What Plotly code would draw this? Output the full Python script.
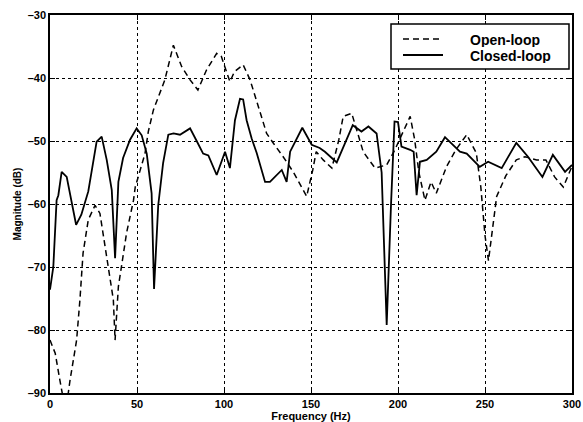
import plotly.graph_objects as go

# ---- data ----
freq_open = [0, 3, 5.7, 9, 11.5, 15.3, 17.2, 19, 22, 25.9, 28.7, 32.6, 36.4, 37.4, 39.3, 41.2,
             44, 48, 49, 54.6, 56.5, 59.4, 63, 66, 70.9, 75.7, 80.5, 85, 90, 95.8, 98.5, 103.4,
             106, 111, 115, 119.7, 124.5, 128.5, 134, 140, 147.5, 151, 153, 157, 162, 166, 168.5,
             173.4, 177, 180, 186.8, 193.5, 198, 203, 207, 209.6, 212, 215.5, 219, 222, 228, 233,
             239.5, 245, 247.6, 250, 252, 256.7, 262, 268, 273, 279.7, 285, 290, 295, 300]
mag_open = [-81.6, -83.7, -88, -93, -88, -81.6, -75.2, -67.8, -62.5, -60.2, -61.5, -68.4, -75.2,
            -81.6, -73.1, -69.7, -64.6, -59.4, -57.3, -52, -48.5, -45.1, -42.4, -40.3, -34.8,
            -38.2, -40.3, -41.9, -38.7, -36.1, -36.6, -40.6, -39, -37.9, -40.3, -44.6, -48.8,
            -50.4, -52.5, -55, -58.8, -54.6, -51.7, -53, -54.3, -49.8, -46.1, -45.6, -48.8,
            -51.7, -54.3, -53.8, -51.5, -48.5, -46.1, -49.8, -55, -59.4, -56.5, -58.3, -54,
            -51.5, -49, -51.9, -57.3, -65, -69, -58.8, -55.5, -53, -52.5, -53, -53, -55.7,
            -57.3, -54]

freq_closed = [0, 1.9, 3.8, 4.8, 6.7, 9.6, 15, 18, 22, 24.9, 26.8, 29.7, 32.6, 35.5, 37.4, 39.3,
               42, 46, 49.8, 52.7, 55.6, 58.4, 59.8, 62.2, 65, 68, 71, 74.7, 80.5, 84.3, 88, 91,
               95.8, 100.6, 103.4, 106.3, 109.2, 111, 113, 115.9, 118.8, 123.6, 126.4, 133.2,
               136, 138, 143.7, 145, 150.4, 155, 158, 164.8, 174, 179, 183, 187.7, 190.6, 193.5,
               196, 198, 200, 202, 207, 209, 210.7, 212.6, 216.5, 222, 227, 235.6, 239.5, 247,
               251.8, 259.6, 268, 274.7, 283, 289, 296, 300]
mag_closed = [-73.6, -70, -59.4, -58.6, -54.9, -55.7, -63.3, -61.7, -58, -53, -50.1, -49.3, -53,
              -57.8, -68.6, -56.5, -52.7, -49.8, -48, -49.1, -52, -58.3, -73.5, -60.2, -53.5,
              -49, -48.8, -49, -48, -50, -52, -52.3, -55.4, -51.7, -54.3, -46.7, -43.3, -43.4,
              -46.7, -49.6, -51.9, -56.5, -56.5, -54.6, -56.5, -51.7, -48.8, -47.9, -50.6,
              -51.1, -51.7, -53.4, -47.5, -48.5, -47.7, -48.8, -55, -79.2, -60, -46.9, -47,
              -50.9, -51.4, -51.7, -58.6, -53.3, -53, -51.7, -49.4, -51.7, -52, -54.1, -53.3,
              -54.3, -50.3, -52.5, -55.7, -52.2, -54.9, -53.8]

x_ticks = [0, 50, 100, 150, 200, 250, 300]
y_ticks = [-90, -80, -70, -60, -50, -40, -30]
series_names = ["Open-loop", "Closed-loop"]

# ---- layout geometry (pixels) ----
W, H = 583, 422
L, R, T, B = 50, 572, 15, 393
FONT = "Liberation Sans, Arial, sans-serif"


def px(xp):
    return (xp - L) / (R - L)


def py(yp):
    return 1 - (yp - T) / (B - T)


fig = go.Figure()
fig.add_trace(go.Scatter(x=freq_open, y=mag_open, mode="lines", name=series_names[0],
                         line=dict(color="black", width=1.5, dash="6px,4px"), showlegend=False))
fig.add_trace(go.Scatter(x=freq_closed, y=mag_closed, mode="lines", name=series_names[1],
                         line=dict(color="black", width=1.8), showlegend=False))

axis_common = dict(
    showline=True, linecolor="black", linewidth=1.5, mirror="ticks",
    ticks="inside", ticklen=5, tickwidth=1, tickcolor="black",
    showgrid=True, gridcolor="black", gridwidth=1, griddash="dot",
    zeroline=False,
    tickfont=dict(family=FONT, size=11, color="black", weight="bold"),
)

fig.update_xaxes(range=[0, 300], tickvals=x_ticks, ticktext=[str(v) for v in x_ticks],
                 title=dict(text="Frequency (Hz)", standoff=2,
                            font=dict(family=FONT, size=11, color="black", weight="bold")),
                 **axis_common)
fig.update_yaxes(range=[-90, -30], tickvals=y_ticks,
                 ticktext=[("\u2013" if v < 0 else "") + str(abs(v)) for v in y_ticks],
                 title=dict(text="Magnitude (dB)", standoff=4,
                            font=dict(family=FONT, size=10, color="black", weight="bold")),
                 **axis_common)

# custom MATLAB-style legend box
shapes = [
    dict(type="rect", xref="paper", yref="paper", x0=px(391), x1=px(569), y0=py(69), y1=py(24),
         line=dict(color="black", width=1.5), fillcolor="white", layer="above"),
    dict(type="line", xref="paper", yref="paper", x0=px(403), x1=px(443), y0=py(39), y1=py(39),
         line=dict(color="black", width=1.5, dash="6px,4px"), layer="above"),
    dict(type="line", xref="paper", yref="paper", x0=px(403), x1=px(443), y0=py(55), y1=py(55),
         line=dict(color="black", width=1.8), layer="above"),
]
annotations = [
    dict(text=series_names[0], xref="paper", yref="paper", x=px(468), y=py(39), xanchor="left",
         yanchor="middle", showarrow=False, height=15,
         font=dict(family=FONT, size=14, color="black", weight="bold")),
    dict(text=series_names[1], xref="paper", yref="paper", x=px(468), y=py(55), xanchor="left",
         yanchor="middle", showarrow=False, height=15,
         font=dict(family=FONT, size=14, color="black", weight="bold")),
]

fig.update_layout(
    width=W, height=H,
    margin=dict(l=L, r=W - R, t=T, b=H - B, autoexpand=False),
    paper_bgcolor="white", plot_bgcolor="white",
    shapes=shapes, annotations=annotations,
    showlegend=False,
)

fig.write_html("out.html", config={"displayModeBar": False},
               post_script="document.body.style.margin='0px';")
